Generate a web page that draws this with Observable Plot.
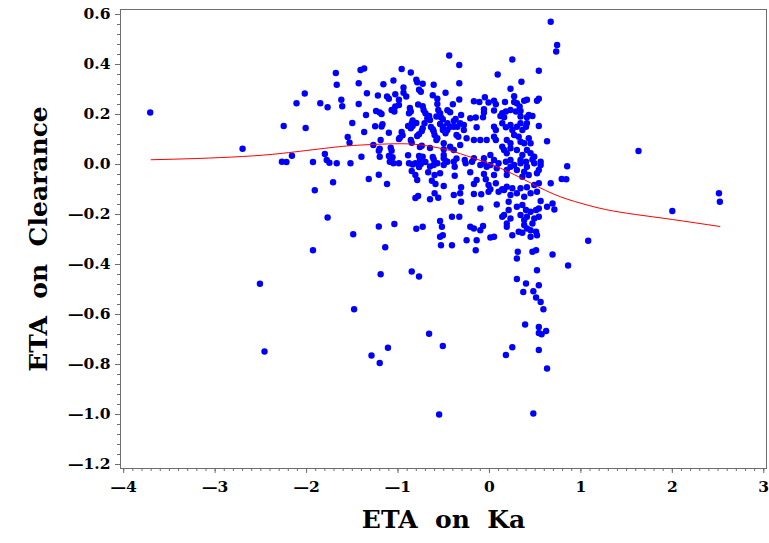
<!DOCTYPE html>
<html>
<head>
<meta charset="utf-8">
<script src="https://cdn.jsdelivr.net/npm/d3@7"></script>
<script src="https://cdn.jsdelivr.net/npm/@observablehq/plot@0.6"></script>
<style>
  html, body { margin: 0; padding: 0; background: white; }
</style>
</head>
<body>
<div id="chart"></div>
<script>
// ETA on Ka (x) for each subject
const etaKa = [
  // sparse left
  -3.71,-2.02,-2.11,-1.85,-1.77,-2.25,-2.01,-2.70,-2.16,-2.27,
  -2.22,-1.93,-1.80,-1.78,-1.75,-1.91,-1.77,-1.68,-1.67,-1.67,
  -1.71,-1.93,-2.51,-2.46,
  // upper middle
  -1.41,-1.37,-0.96,-0.86,-1.43,-1.16,-1.05,-0.80,-0.79,-0.73,
  -0.61,-0.94,-0.77,-0.75,-1.34,-1.22,-1.12,-1.10,-1.03,-0.94,
  -0.91,-0.99,-0.99,-1.03,-1.07,-1.04,-0.62,-0.57,-1.62,-1.61,
  -1.43,-0.78,-0.73,-0.72,-0.70,-0.57,-0.56,-0.54,-0.58,-1.24,
  -1.20,-1.18,-0.87,-0.86,-0.88,-1.35,-0.68,-0.66,-0.65,-0.84,
  -0.85,-0.80,-1.17,-1.18,-1.25,-1.50,-0.89,-0.86,-0.84,-0.73,
  -0.71,-0.64,-0.62,-0.61,-0.53,-0.51,-0.54,-0.51,-0.51,-1.37,
  -1.10,-0.96,-0.95,-0.98,-0.99,-0.79,-0.77,-0.74,-1.55,-0.60,
  -0.57,-0.58,-1.19,-1.53,-0.86,-0.85,-1.27,-1.20,-1.21,-1.08,
  -1.07,-0.76,-0.74,-0.65,-0.50,-1.40,-1.20,-1.10,-1.06,-1.09,
  -0.89,-0.77,-0.73,-0.76,-0.70,-0.62,-0.61,-0.50,-0.48,-1.52,
  -1.05,-0.99,-0.88,-0.81,-0.57,-0.84,-0.77,-0.75,-0.65,-0.61,
  -0.50,
  // lower middle
  -0.85,-0.81,-0.79,-0.67,-0.60,-0.54,-0.63,-0.59,-0.50,-1.32,
  -1.21,-1.12,-0.81,-0.78,-0.65,-0.60,-0.56,-1.21,-1.04,-1.49,
  -0.80,-0.73,-0.54,-0.52,-0.54,-0.51,-0.53,-1.14,-1.19,-0.85,
  -0.77,
  // bottom
  -1.48,-0.66,-0.51,-1.11,-1.29,-1.20,-0.55,0.37,0.48,0.51,
  0.56,0.59,0.39,0.54,0.54,0.57,0.62,0.25,0.18,0.54,
  0.63,0.48,0.52,0.30,0.40,0.54,
  // dense right, below zero
  -0.39,-0.38,-0.26,-0.19,-0.06,0.01,0.10,0.18,0.23,0.27,
  0.34,0.41,0.49,0.56,0.54,0.38,0.30,0.19,0.08,-0.03,
  -0.10,-0.38,-0.21,-0.06,0.05,0.19,0.36,0.43,0.52,0.67,
  -0.31,-0.17,-0.14,-0.04,-0.01,0.07,0.14,0.19,0.25,0.34,
  0.41,0.49,0.54,-0.39,-0.32,-0.31,-0.17,-0.09,-0.01,0.01,
  0.10,0.16,0.23,0.30,0.38,0.45,0.52,0.08,0.21,0.56,
  0.63,0.69,0.71,-0.10,0.30,0.36,0.40,0.45,0.51,0.54,
  0.21,0.16,0.14,0.23,0.34,0.38,0.41,0.49,0.47,0.54,
  -0.41,-0.33,-0.21,-0.17,-0.07,-0.10,0.19,0.19,0.38,0.41,
  0.45,0.51,0.52,0.45,-0.41,-0.25,-0.14,0.01,0.05,0.25,
  0.32,0.36,-0.15,0.31,0.30,0.47,0.51,0.69,
  // dense right, above zero
  -0.44,0.25,-0.33,0.09,0.54,-0.33,0.35,-0.48,0.23,0.27,
  -0.05,-0.33,-0.40,-0.17,-0.11,-0.01,0.05,0.07,0.17,0.27,
  0.30,0.33,0.38,0.41,0.52,0.54,-0.46,-0.43,-0.06,-0.06,
  0.05,0.14,0.18,0.16,0.12,-0.31,-0.37,-0.39,0.23,0.29,
  0.34,0.34,0.41,0.47,0.43,-0.21,-0.15,-0.14,-0.07,-0.46,
  -0.43,-0.39,-0.35,-0.32,-0.28,0.05,0.07,0.14,0.18,0.23,
  0.25,0.27,0.30,0.34,0.36,0.40,0.41,0.54,-0.48,-0.46,
  -0.36,-0.34,-0.28,-0.25,-0.17,-0.10,-0.03,0.05,0.07,0.19,
  0.23,0.32,0.34,0.38,0.43,0.45,0.63,-0.50,-0.43,-0.32,
  -0.39,0.14,0.16,0.19,0.23,0.30,0.36,0.41,0.45,0.49,
  -0.50,-0.46,-0.36,-0.27,-0.17,-0.06,0.01,0.05,0.23,0.34,
  0.40,0.47,0.56,
  // sparse right
  0.67,0.74,0.73,1.63,0.85,0.79,0.84,2.51,2.52,2.00,
  1.08,0.86
];

// ETA on Clearance (y) for each subject, same order
const etaCl = [
  0.208,0.284,0.245,0.245,0.229,0.154,0.146,0.063,0.035,0.011,
  0.010,0.010,0.042,0.018,0.007,-0.103,-0.212,0.366,0.319,0.005,
  -0.071,-0.343,-0.477,-0.748,
  0.378,0.384,0.382,0.368,0.325,0.321,0.336,0.339,0.329,0.323,
  0.319,0.308,0.299,0.291,0.285,0.276,0.272,0.263,0.281,0.287,
  0.272,0.259,0.238,0.232,0.218,0.212,0.277,0.263,0.259,0.233,
  0.242,0.240,0.233,0.218,0.205,0.242,0.218,0.205,0.192,0.214,
  0.208,0.202,0.226,0.212,0.205,0.198,0.185,0.194,0.178,0.176,
  0.165,0.166,0.161,0.152,0.153,0.166,0.154,0.145,0.154,0.145,
  0.165,0.150,0.141,0.133,0.189,0.181,0.162,0.151,0.138,0.130,
  0.127,0.130,0.117,0.107,0.102,0.114,0.121,0.134,0.110,0.118,
  0.105,0.098,0.098,0.087,0.098,0.087,0.078,0.063,0.055,0.067,
  0.055,0.070,0.075,0.066,0.061,0.031,0.031,0.034,0.029,0.011,
  0.037,0.034,0.031,0.018,0.010,0.030,0.021,0.038,0.014,0.005,
  0.005,0.005,0.005,0.005,0.005,0.000,-0.010,0.002,-0.008,-0.002,
  -0.002,
  -0.026,-0.042,-0.062,-0.031,-0.042,-0.035,-0.065,-0.078,-0.086,-0.058,
  -0.041,-0.078,-0.134,-0.126,-0.139,-0.115,-0.133,-0.248,-0.238,-0.279,
  -0.257,-0.249,-0.226,-0.249,-0.289,-0.283,-0.323,-0.331,-0.439,-0.428,
  -0.448,
  -0.579,-0.677,-0.726,-0.733,-0.764,-0.794,-1.000,-0.510,-0.507,-0.532,
  -0.550,-0.579,-0.640,-0.650,-0.674,-0.679,-0.666,-0.731,-0.762,-0.742,
  -0.816,-0.996,-0.423,-0.458,-0.476,-0.483,
  0.011,-0.009,0.005,0.011,0.005,-0.002,0.005,0.011,-0.009,-0.002,
  0.005,-0.009,0.005,-0.002,-0.022,-0.029,-0.022,-0.022,-0.015,-0.009,
  -0.002,-0.045,-0.031,-0.038,-0.042,-0.042,-0.049,-0.042,-0.035,-0.075,
  -0.091,-0.078,-0.062,-0.059,-0.082,-0.075,-0.099,-0.089,-0.095,-0.095,
  -0.091,-0.082,-0.075,-0.122,-0.115,-0.149,-0.118,-0.119,-0.109,-0.099,
  -0.109,-0.102,-0.122,-0.115,-0.129,-0.115,-0.109,-0.160,-0.149,-0.146,
  -0.169,-0.156,-0.180,-0.176,-0.169,-0.162,-0.182,-0.189,-0.182,-0.176,
  -0.182,-0.202,-0.209,-0.216,-0.202,-0.222,-0.209,-0.216,-0.236,-0.209,
  -0.209,-0.209,-0.249,-0.256,-0.246,-0.263,-0.236,-0.249,-0.242,-0.256,
  -0.263,-0.269,-0.283,-0.289,-0.323,-0.303,-0.303,-0.292,-0.289,-0.283,
  -0.269,-0.273,-0.343,-0.349,-0.376,-0.349,-0.343,-0.360,
  0.436,0.420,0.398,0.360,0.375,0.325,0.331,0.287,0.303,0.273,
  0.269,0.260,0.241,0.253,0.250,0.248,0.255,0.241,0.250,0.250,
  0.245,0.232,0.255,0.259,0.255,0.263,0.217,0.209,0.221,0.208,
  0.216,0.205,0.212,0.189,0.194,0.198,0.182,0.174,0.218,0.212,
  0.214,0.192,0.189,0.194,0.198,0.185,0.188,0.149,0.189,0.165,
  0.151,0.151,0.151,0.165,0.158,0.151,0.138,0.165,0.149,0.158,
  0.138,0.118,0.151,0.165,0.138,0.151,0.165,0.154,0.125,0.138,
  0.118,0.111,0.138,0.105,0.098,0.098,0.098,0.111,0.098,0.098,
  0.085,0.111,0.091,0.085,0.105,0.085,0.093,0.085,0.071,0.078,
  0.058,0.071,0.058,0.045,0.065,0.058,0.038,0.058,0.045,0.031,
  0.025,0.011,0.024,0.018,0.025,0.025,0.038,0.018,0.018,0.018,
  0.011,0.020,0.011,
  0.571,0.478,0.452,0.054,-0.007,-0.058,-0.059,-0.115,-0.149,-0.186,
  -0.305,-0.404
];

// smoothed trend (red curve)
const smoothX = [-3.70,-3.20,-2.70,-2.26,-1.75,-1.40,-1.00,-0.75,-0.50,-0.25,0.05,0.35,0.70,1.00,1.27,1.60,2.00,2.52];
const smoothY = [0.019,0.024,0.032,0.045,0.067,0.078,0.083,0.078,0.062,0.035,-0.004,-0.055,-0.118,-0.155,-0.180,-0.200,-0.220,-0.248];

// tick labels
const xTicks = [-4,-3,-2,-1,0,1,2,3];
const yTicks = [-1.2,-1.0,-0.8,-0.6,-0.4,-0.2,0.0,0.2,0.4,0.6];
const xLabel = "ETA\u00a0\u00a0on\u00a0\u00a0Ka";
const yLabel = "ETA\u00a0\u00a0on\u00a0\u00a0Clearance";

const n = Math.min(etaKa.length, etaCl.length);
const points = d3.range(n).map(i => ({x: etaKa[i], y: etaCl[i]}));
const smooth = smoothX.map((x, i) => ({x, y: smoothY[i]}));

const minorX = d3.range(-40, 31).map(d => d / 10);
const minorY = d3.range(-30, 16).map(d => +(d * 0.04).toFixed(2));

// long dash as the minus sign, as in the reference
const fmtX = d => (d < 0 ? "\u2014" : "") + Math.abs(d);
const fmtY = d => (d < 0 ? "\u2014" : "") + Math.abs(d).toFixed(1);
const axisGray = "#6e6e6e";
const tickFont = 15.5;
const font = "'DejaVu Serif', serif";

const chart = Plot.plot({
  width: 769,
  height: 543,
  marginLeft: 120,
  marginRight: 3,
  marginTop: 9,
  marginBottom: 75,
  x: {domain: [-4.035, 3.03]},
  y: {domain: [-1.216, 0.62]},
  style: {
    fontFamily: font,
    fontWeight: "bold",
    background: "white",
    color: "black",
    overflow: "visible"
  },
  marks: [
    Plot.frame({stroke: axisGray}),
    // minor and major ticks
    Plot.axisX(minorX, {tickSize: 3, tickFormat: () => "", stroke: axisGray, label: null}),
    Plot.axisX(xTicks, {tickSize: 5, tickFormat: () => "", stroke: axisGray, label: null}),
    Plot.axisY(minorY, {tickSize: 3, tickFormat: () => "", stroke: axisGray, label: null}),
    Plot.axisY(yTicks, {tickSize: 5, tickFormat: () => "", stroke: axisGray, label: null}),
    // tick labels
    Plot.text(xTicks, {x: d => d, frameAnchor: "bottom", dy: 23, text: fmtX, textAnchor: "middle",
      fontSize: tickFont, fontWeight: "bold", fontFamily: font, fill: "black"}),
    Plot.text(yTicks, {y: d => d, frameAnchor: "left", dx: -10, text: fmtY, textAnchor: "end",
      fontSize: tickFont, fontWeight: "bold", fontFamily: font, fill: "black"}),
    // data
    Plot.dot(points, {x: "x", y: "y", r: 3.2, fill: "#0000ff", stroke: null}),
    Plot.line(smooth, {x: "x", y: "y", stroke: "#ff0000", strokeWidth: 1, curve: "natural"}),
    // axis titles
    Plot.text([xLabel], {text: d => d, frameAnchor: "bottom", dy: 59, textAnchor: "middle", fontSize: 25, fontWeight: "bold", fontFamily: font, fill: "black"}),
    Plot.text([yLabel], {text: d => d, frameAnchor: "left", dx: -82, rotate: -90, textAnchor: "middle", fontSize: 25, fontWeight: "bold", fontFamily: font, fill: "black"})
  ]
});

document.getElementById("chart").appendChild(chart);
</script>
</body>
</html>
